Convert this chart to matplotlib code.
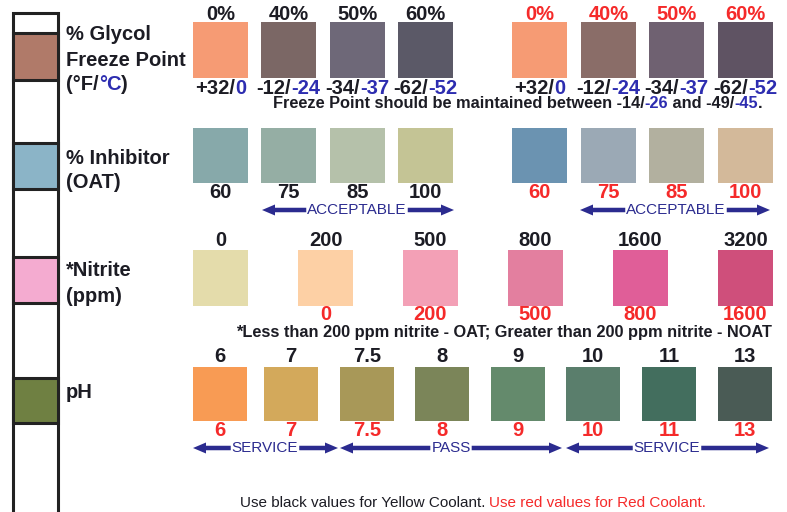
import matplotlib
matplotlib.use('Agg')
import matplotlib.pyplot as plt
from matplotlib.patches import Rectangle
from matplotlib import font_manager

# Data
glycol_pct = ['0%', '40%', '50%', '60%']
glycol_f = ['+32', '-12', '-34', '-62']
glycol_c = ['0', '-24', '-37', '-52']
glycol_yellow_colors = ['#f69b74', '#7b6765', '#6e6878', '#5b5967']
glycol_red_colors = ['#f69b74', '#8a6d68', '#6f6171', '#5f5363']

inhibitor_values = ['60', '75', '85', '100']
inhibitor_yellow_colors = ['#87a9aa', '#95aea4', '#b5c1aa', '#c4c495']
inhibitor_red_colors = ['#6b93b1', '#9ba9b5', '#b2b09f', '#d3b99a']

nitrite_black = ['0', '200', '500', '800', '1600', '3200']
nitrite_red = ['', '0', '200', '500', '800', '1600']
nitrite_colors = ['#e4dcab', '#fdd0a5', '#f3a0b6', '#e37f9f', '#e05e98', '#cf4f7b']

ph_values = ['6', '7', '7.5', '8', '9', '10', '11', '13']
ph_colors = ['#f89b54', '#d3a95b', '#a89858', '#7b8559', '#648a6c', '#5a7e6c', '#436e5e', '#4a5b55']

strip_pads = [('#b07a69', 33, 80), ('#8bb4c7', 143, 189), ('#f4abd0', 257, 303), ('#6f8042', 378, 423)]

BLACK = '#1c1c24'
RED = '#f52a2a'
BLUE = '#2d2db0'
NAVY = '#2b2b8f'

fams = {f.name for f in font_manager.fontManager.ttflist}
NARROW = 'Liberation Sans Narrow' if 'Liberation Sans Narrow' in fams else 'Liberation Sans'
plt.rcParams['font.family'] = ['Liberation Sans', 'DejaVu Sans']

fig = plt.figure(figsize=(7.87, 5.12), dpi=100)
ax = fig.add_axes([0, 0, 1, 1])
ax.set_xlim(0, 787)
ax.set_ylim(512, 0)
ax.axis('off')
renderer = fig.canvas.get_renderer()


def multiText(x, y, parts, ha='center', **kw):
    texts = []
    for s, c in parts:
        texts.append(ax.text(0, y, s, color=c, ha='left', va='center', **kw))
    widths = [t.get_window_extent(renderer).width for t in texts]
    start = x - sum(widths) / 2 if ha == 'center' else x
    for t, w in zip(texts, widths):
        t.set_x(start)
        start += w


def swatches(lefts, width, top, bottom, colors):
    for x0, c in zip(lefts, colors):
        ax.add_patch(Rectangle((x0, top), width, bottom - top, facecolor=c, edgecolor='none'))
    return [x0 + width / 2 for x0 in lefts]


def arrowLabel(x0, x1, y, label, xc):
    t = ax.text(xc, y, label, color=NAVY, ha='center', va='center', fontsize=11, family=NARROW)
    bb = t.get_window_extent(renderer)
    tl, tr = bb.x0 - 1, bb.x1 + 1
    kw = dict(width=4.5, head_width=11, head_length=13, length_includes_head=True,
              color=NAVY, linewidth=0)
    ax.arrow(tl, y, x0 - tl, 0, **kw)
    ax.arrow(tr, y, x1 - tr, 0, **kw)


# left test strip
ax.add_patch(Rectangle((13, 13), 45, 520, facecolor='white', edgecolor='#222222', lw=2.2))
for c, y0, y1 in strip_pads:
    ax.add_patch(Rectangle((13, y0), 45, y1 - y0, facecolor=c, edgecolor='#222222', lw=2.2))

lab = dict(fontsize=14.5, fontweight='bold')
ax.text(66, 35, '% Glycol', color=BLACK, va='center', **lab)
ax.text(66, 60, 'Freeze Point', color=BLACK, va='center', **lab)
multiText(66, 85, [('(°F/', BLACK), ('°C', BLUE), (')', BLACK)], ha='left', **lab)
ax.text(66, 158, '% Inhibitor', color=BLACK, va='center', **lab)
ax.text(66, 183, '(OAT)', color=BLACK, va='center', **lab)
ax.text(66, 271, '*Nitrite', color=BLACK, va='center', **lab)
ax.text(66, 297, '(ppm)', color=BLACK, va='center', **lab)
ax.text(66, 392, 'pH', color=BLACK, va='center', **lab)

num = dict(fontsize=14.5, fontweight='bold')

# glycol row
cy = swatches([193, 261, 330, 398], 55, 22, 78, glycol_yellow_colors)
cr = swatches([512, 581, 649, 718], 55, 22, 78, glycol_red_colors)
for xs, col in ((cy, BLACK), (cr, RED)):
    for x, p, f, c in zip(xs, glycol_pct, glycol_f, glycol_c):
        ax.text(x, 14, p, color=col, ha='center', va='center', **num)
        multiText(x, 88, [(f + '/', BLACK), (c, BLUE)], **num)
multiText(273, 104, [('Freeze Point should be maintained between -14/', BLACK), ('-26', BLUE),
                     (' and -49/', BLACK), ('-45', BLUE), ('.', BLACK)],
          ha='left', fontsize=11.8, fontweight='bold')

# inhibitor row
cy = swatches([193, 261, 330, 398], 55, 128, 183, inhibitor_yellow_colors)
cr = swatches([512, 581, 649, 718], 55, 128, 183, inhibitor_red_colors)
for x, v in zip(cy, inhibitor_values):
    ax.text(x, 192, v, color=BLACK, ha='center', va='center', **num)
for x, v in zip(cr, inhibitor_values):
    ax.text(x, 192, v, color=RED, ha='center', va='center', **num)
arrowLabel(262, 454, 210, 'ACCEPTABLE', 357)
arrowLabel(580, 770, 210, 'ACCEPTABLE', 676)

# nitrite row
cn = swatches([193, 298, 403, 508, 613, 718], 55, 250, 306, nitrite_colors)
for x, b, r in zip(cn, nitrite_black, nitrite_red):
    ax.text(x, 240, b, color=BLACK, ha='center', va='center', **num)
    if r:
        ax.text(x, 315, r, color=RED, ha='center', va='center', **num)
ax.text(772, 332, '*Less than 200 ppm nitrite - OAT; Greater than 200 ppm nitrite - NOAT',
        color=BLACK, ha='right', va='center', fontsize=11.8, fontweight='bold')

# pH row
cp = swatches([193, 264, 340, 415, 491, 566, 642, 718], 54, 367, 421, ph_colors)
for x, v in zip(cp, ph_values):
    ax.text(x, 357, v, color=BLACK, ha='center', va='center', **num)
    ax.text(x, 431, v, color=RED, ha='center', va='center', **num)
arrowLabel(193, 338, 448, 'SERVICE', 265)
arrowLabel(340, 562, 448, 'PASS', 451)
arrowLabel(566, 769, 448, 'SERVICE', 667)

multiText(473, 503, [('Use black values for Yellow Coolant. ', BLACK),
                     ('Use red values for Red Coolant.', RED)],
          fontsize=11, family=NARROW)

fig.savefig('out.png', dpi=100)
